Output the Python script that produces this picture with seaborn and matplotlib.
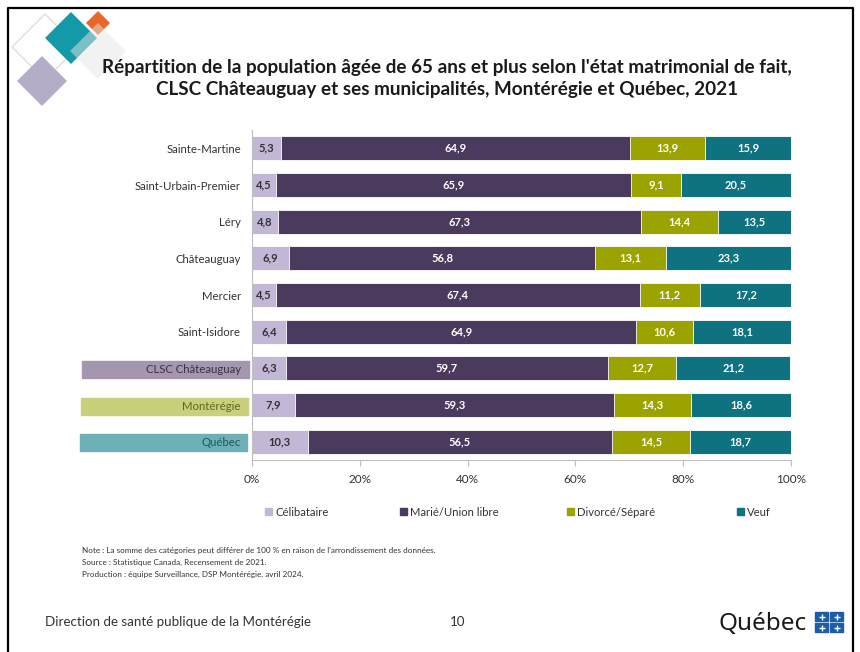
import matplotlib
matplotlib.use("Agg")
import matplotlib.pyplot as plt
import seaborn as sns
import pandas as pd
import numpy as np
from matplotlib.patches import Polygon, Rectangle

sns.set_theme(style="white")
plt.rcParams['font.family'] = ['Lato', 'DejaVu Sans']

categories = ["Sainte-Martine", "Saint-Urbain-Premier", "Léry", "Châteauguay", "Mercier",
              "Saint-Isidore", "CLSC Châteauguay", "Montérégie", "Québec"]
celibataire = [5.3, 4.5, 4.8, 6.9, 4.5, 6.4, 6.3, 7.9, 10.3]
marie = [64.9, 65.9, 67.3, 56.8, 67.4, 64.9, 59.7, 59.3, 56.5]
divorce = [13.9, 9.1, 14.4, 13.1, 11.2, 10.6, 12.7, 14.3, 14.5]
veuf = [15.9, 20.5, 13.5, 23.3, 17.2, 18.1, 21.2, 18.6, 18.7]
series_names = ["Célibataire", "Marié/Union libre", "Divorcé/Séparé", "Veuf"]
colors = ["#C3B7D6", "#4A3A5D", "#9BA300", "#0E7280"]
label_colors = ["#333333", "white", "white", "white"]
xticks = [0, 20, 40, 60, 80, 100]
xticklabels = ["0%", "20%", "40%", "60%", "80%", "100%"]

W, H = 860, 652
fig = plt.figure(figsize=(W / 100, H / 100), dpi=100)

# background overlay axes in pixel coords
bg = fig.add_axes([0, 0, 1, 1], zorder=0)
bg.set_xlim(0, W)
bg.set_ylim(H, 0)
bg.axis("off")

def px(x0, y0, x1, y1):
    return [x0 / W, 1 - y1 / H, (x1 - x0) / W, (y1 - y0) / H]

ax = fig.add_axes(px(252, 130, 791, 460), zorder=2)
ax.set_facecolor("none")

series = [celibataire, marie, divorce, veuf]
cum = np.zeros(len(categories))
cums = []
for s in series:
    cum = cum + np.array(s)
    cums.append(cum.copy())
# draw from largest cumulative to smallest
for i in range(3, -1, -1):
    d = pd.DataFrame({"cat": categories, "val": cums[i]})
    sns.barplot(data=d, x="val", y="cat", orient="h", color=colors[i], ax=ax,
                width=0.66, edgecolor="white", linewidth=0.6, saturation=1)

starts = [np.zeros(len(categories))] + cums[:-1]
for i, s in enumerate(series):
    for j, v in enumerate(s):
        ax.text(starts[i][j] + v / 2, j, f"{v:.1f}".replace(".", ","),
                ha="center", va="center", color=label_colors[i],
                fontsize=8, fontweight="bold")

ax.set_xlim(0, 100)
ax.set_ylim(8.5, -0.5)
ax.set_xticks(xticks)
ax.set_xticklabels(xticklabels, fontsize=8.5, color="#333333")
ax.set_xlabel("")
ax.set_ylabel("")
ax.tick_params(axis="x", length=4, width=0.8, color="#BFBFBF", pad=6, bottom=True)
ax.tick_params(axis="y", length=0, pad=8, labelsize=8.2, labelcolor="#333333")
for sp in ["top", "right"]:
    ax.spines[sp].set_visible(False)
for sp in ["left", "bottom"]:
    ax.spines[sp].set_color("#BFBFBF")
    ax.spines[sp].set_linewidth(0.8)
tls = ax.get_yticklabels()
tls[6].set_color("#3A3340")
tls[7].set_color("#5F6620")
tls[8].set_color("#1F5560")

# highlight boxes behind labels
bg.add_patch(Rectangle((82, 361), 167, 17, color="#A396AE", zorder=1))
bg.add_patch(Rectangle((81, 398), 167, 17, color="#C9D07B", zorder=1))
bg.add_patch(Rectangle((80, 434), 167, 17, color="#6FB0B7", zorder=1))

# slide border
bg.plot([8, 8, 853, 853], [652, 8, 8, 652], color="black", lw=1.6, zorder=5)

# decorative diamonds
def diamond(cx, cy, r, **kw):
    return Polygon([(cx, cy - r), (cx + r, cy), (cx, cy + r), (cx - r, cy)], closed=True, **kw)

bg.add_patch(diamond(45, 47, 33, fill=False, edgecolor="#D9E2D3", lw=1.0, zorder=1))
bg.add_patch(diamond(42, 81, 25, facecolor="#B5ACC8", edgecolor="none", zorder=2))
bg.add_patch(diamond(71, 38, 26, facecolor="#1399A8", edgecolor="none", zorder=2))
bg.add_patch(diamond(98, 23, 12, facecolor="#E8672A", edgecolor="none", zorder=2))
bg.add_patch(diamond(98, 51, 28, facecolor="#E6E6E6", edgecolor="none", alpha=0.5, zorder=3))

# title
bg.text(447, 67, "Répartition de la population âgée de 65 ans et plus selon l'état matrimonial de fait,",
        ha="center", va="center", fontsize=13.6, fontweight="bold", color="#1A1A1A")
bg.text(447, 89, "CLSC Châteauguay et ses municipalités, Montérégie et Québec, 2021",
        ha="center", va="center", fontsize=13.6, fontweight="bold", color="#1A1A1A")

# legend
leg_x = [265, 400, 567, 737]
for xx, name, c in zip(leg_x, series_names, colors):
    bg.add_patch(Rectangle((xx, 508), 7, 7, color=c, zorder=3))
    bg.text(xx + 10, 512, name, ha="left", va="center", fontsize=8.1, color="#333333")

# notes
notes = ["Note : La somme des catégories peut différer de 100 % en raison de l'arrondissement des données.",
         "Source : Statistique Canada, Recensement de 2021.",
         "Production : équipe Surveillance, DSP Montérégie, avril 2024."]
for k, t in enumerate(notes):
    bg.text(82, 550 + 12 * k, t, ha="left", va="center", fontsize=5.9, color="#333333")

# footer
bg.text(45, 622, "Direction de santé publique de la Montérégie", ha="left", va="center",
        fontsize=9.6, color="#333333")
bg.text(458, 622, "10", ha="center", va="center", fontsize=9.6, color="#333333")
bg.text(718, 624, "Québec", ha="left", va="center", fontsize=17.5, color="#1A1A1A",
        family=["Noto Sans", "DejaVu Sans"])
for (fx, fy) in [(815, 612), (830, 612), (815, 623), (830, 623)]:
    bg.add_patch(Rectangle((fx, fy), 13, 9, color="#1C5DA8", zorder=3))
    bg.plot([fx + 6.5], [fy + 4.5], marker="+", color="white", ms=4, mew=1, zorder=4)

fig.savefig("out.png", dpi=100)
